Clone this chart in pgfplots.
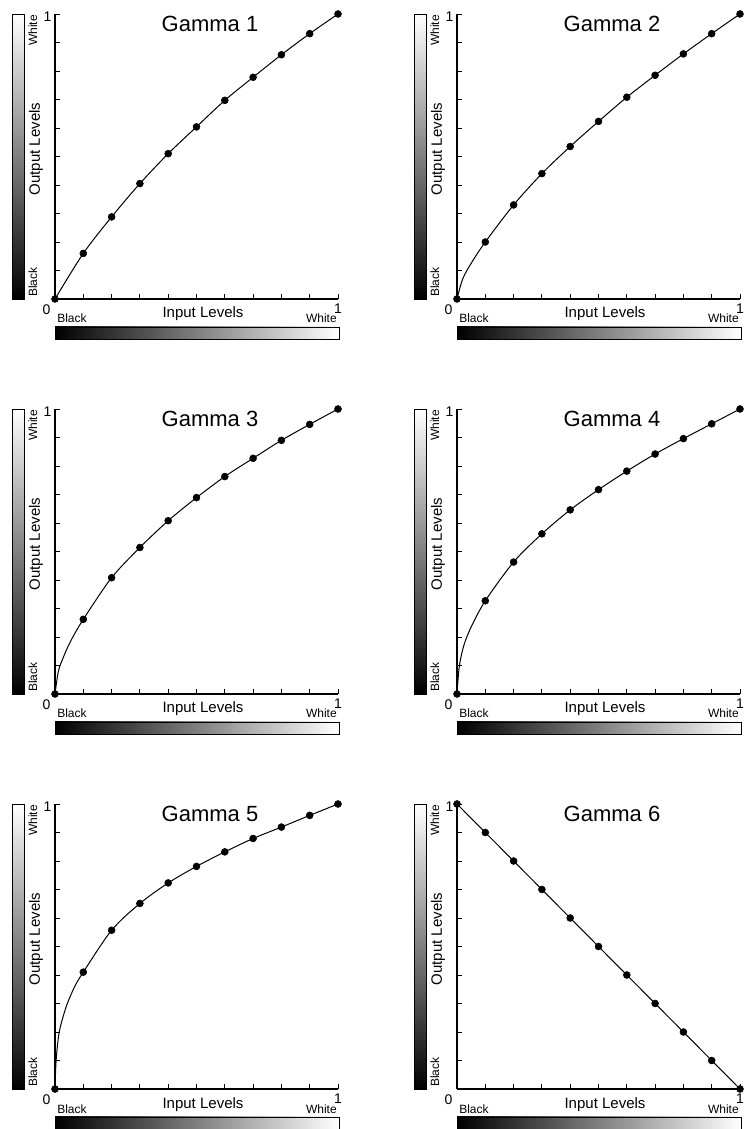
\documentclass[border=0pt]{standalone}
\usepackage{fontspec}
\setmainfont{Liberation Sans}
\usepackage{pgfplots}
\usepackage{pgfplotstable}
\pgfplotsset{compat=1.18}
\usetikzlibrary{calc}

% the first rows after (0,0) are extra curve points near the origin
\pgfplotstableread{
x y
0 0
0.1 0.160
0.2 0.288
0.3 0.405
0.4 0.510
0.5 0.604
0.6 0.697
0.7 0.778
0.8 0.857
0.9 0.931
1 1
}\gA
\pgfplotstableread{
x y
0 0
0.02 0.07
0.05 0.125
0.1 0.200
0.2 0.330
0.3 0.440
0.4 0.535
0.5 0.623
0.6 0.708
0.7 0.785
0.8 0.860
0.9 0.931
1 1
}\gB
\pgfplotstableread{
x y
0 0
0.012 0.08
0.03 0.13
0.055 0.185
0.1 0.262
0.2 0.408
0.3 0.514
0.4 0.608
0.5 0.689
0.6 0.763
0.7 0.827
0.8 0.890
0.9 0.946
1 1
}\gC
\pgfplotstableread{
x y
0 0
0.008 0.096
0.024 0.17
0.05 0.235
0.1 0.327
0.2 0.463
0.3 0.562
0.4 0.646
0.5 0.717
0.6 0.782
0.7 0.842
0.8 0.896
0.9 0.948
1 1
}\gD
\pgfplotstableread{
x y
0 0
0.004 0.10
0.015 0.20
0.04 0.29
0.07 0.36
0.1 0.410
0.2 0.557
0.3 0.651
0.4 0.723
0.5 0.781
0.6 0.832
0.7 0.879
0.8 0.919
0.9 0.960
1 1
}\gE
\pgfplotstableread{
x y
0 1
0.1 0.9
0.2 0.8
0.3 0.7
0.4 0.6
0.5 0.5
0.6 0.4
0.7 0.3
0.8 0.2
0.9 0.1
1 0
}\gF

\pgfplotsset{gam/.style={
  width=212.25pt, height=213.75pt, scale only axis,
  anchor=south west,
  xmin=0, xmax=1, ymin=0, ymax=1,
  axis lines=left,
  axis line style={-, line width=1.3pt},
  xtick={0,0.1,0.2,0.3,0.4,0.5,0.6,0.7,0.8,0.9,1},
  ytick={0,0.1,0.2,0.3,0.4,0.5,0.6,0.7,0.8,0.9,1},
  xticklabels={}, yticklabels={},
  tick align=inside, major tick length=3.75pt,
  tick style={black, line width=0.7pt},
  clip=false,
}}
\tikzset{
  curve/.style={black, line width=0.75pt, smooth, tension=0.5, no markers},
  dots/.style={black, only marks, mark=*, mark size=2.6pt},
}

\newcommand{\fs}[1]{\fontsize{#1}{#1}\selectfont}

% gradient bars and labels round a named axis
\newcommand{\deco}[2]{%
  \path[draw=black, line width=0.5pt, bottom color=black, top color=white]
    ($(#1.south west)+(-32.25pt,0)$) rectangle ($(#1.north west)+(-23.25pt,0)$);
  \path[draw=black, line width=0.5pt, left color=black, right color=white]
    ($(#1.south west)+(0,-21pt)$) rectangle ($(#1.south east)+(0.75pt,-30pt)$);
  \node[anchor=base, inner sep=0, font=\fs{16.5}] at ($(#1.north west)+(116.25pt,-13.1pt)$) {#2};
  \node[rotate=90, anchor=center, inner sep=0, font=\fs{11.25}] at ($(#1.south west)+(-14.25pt,112.5pt)$) {Output Levels};
  \node[rotate=90, anchor=base west, inner sep=0, font=\fs{9}] at ($(#1.south west)+(-13.5pt,1.5pt)$) {Black};
  \node[rotate=90, anchor=base east, inner sep=0, font=\fs{9}] at ($(#1.north west)+(-13.5pt,-0.75pt)$) {White};
  \node[anchor=base west, inner sep=0, font=\fs{9}] at ($(#1.south west)+(1.5pt,-18pt)$) {Black};
  \node[anchor=base east, inner sep=0, font=\fs{9}] at ($(#1.south east)+(-0.75pt,-18pt)$) {White};
  \node[anchor=base, inner sep=0, font=\fs{11.25}] at ($(#1.south west)+(111pt,-14.25pt)$) {Input Levels};
  \node[anchor=center, inner sep=0, font=\fs{10.5}] at ($(#1.south west)+(-6.4pt,-7.9pt)$) {0};
  \node[anchor=center, inner sep=0, font=\fs{10.5}] at ($(#1.south east)+(0pt,-7.5pt)$) {1};
  \node[anchor=center, inner sep=0, font=\fs{10.5}] at ($(#1.north west)+(-5.6pt,-2.25pt)$) {1};
}

\begin{document}
\begin{tikzpicture}
\useasboundingbox (0,0) rectangle (558pt,846.75pt);

\begin{axis}[gam, name=a1, at={(41.25pt,622.5pt)}]
\addplot[curve] table {\gA};
\addplot[dots] table {\gA};
\end{axis}
\deco{a1}{Gamma 1}

\begin{axis}[gam, name=a2, at={(342.75pt,622.5pt)}]
\addplot[curve] table {\gB};
\addplot[dots, skip coords between index={1}{3}] table {\gB};
\end{axis}
\deco{a2}{Gamma 2}

\begin{axis}[gam, name=a3, at={(41.25pt,326.25pt)}]
\addplot[curve] table {\gC};
\addplot[dots, skip coords between index={1}{4}] table {\gC};
\end{axis}
\deco{a3}{Gamma 3}

\begin{axis}[gam, name=a4, at={(342.75pt,326.25pt)}]
\addplot[curve] table {\gD};
\addplot[dots, skip coords between index={1}{4}] table {\gD};
\end{axis}
\deco{a4}{Gamma 4}

\begin{axis}[gam, name=a5, at={(41.25pt,30pt)}]
\addplot[curve] table {\gE};
\addplot[dots, skip coords between index={1}{5}] table {\gE};
\end{axis}
\deco{a5}{Gamma 5}

\begin{axis}[gam, name=a6, at={(342.75pt,30pt)}]
\addplot[curve, sharp plot] table {\gF};
\addplot[dots] table {\gF};
\end{axis}
\deco{a6}{Gamma 6}

\end{tikzpicture}
\end{document}
